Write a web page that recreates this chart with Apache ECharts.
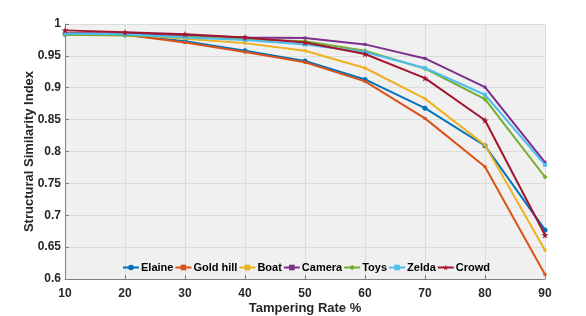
<!DOCTYPE html>
<html><head><meta charset="utf-8">
<script src="https://cdn.jsdelivr.net/npm/echarts@6/dist/echarts.min.js"></script>
<style>html,body{margin:0;padding:0;background:#fff}#c{width:586px;height:316px}</style>
</head><body><div id="c"></div>
<script>
const rates = [10, 20, 30, 40, 50, 60, 70, 80, 90];
const elaine  = [0.984, 0.983, 0.973, 0.958, 0.942, 0.913, 0.868, 0.809, 0.677];
const goldHill= [0.984, 0.983, 0.971, 0.956, 0.940, 0.910, 0.852, 0.776, 0.607];
const boat    = [0.985, 0.984, 0.977, 0.970, 0.958, 0.931, 0.883, 0.810, 0.645];
const camera  = [0.986, 0.985, 0.982, 0.979, 0.978, 0.968, 0.946, 0.901, 0.783];
const toys    = [0.983, 0.982, 0.980, 0.976, 0.973, 0.958, 0.930, 0.882, 0.760];
const zelda   = [0.985, 0.984, 0.979, 0.975, 0.968, 0.956, 0.931, 0.889, 0.779];
const crowd   = [0.990, 0.987, 0.984, 0.979, 0.971, 0.953, 0.915, 0.849, 0.669];
const yTicksMin = 0.6, yTicksMax = 1, yStep = 0.05;

const names = ['Elaine','Gold hill','Boat','Camera','Toys','Zelda','Crowd'];
const datas = [elaine, goldHill, boat, camera, toys, zelda, crowd];
const colors = ['#0072BD','#D95319','#EDB120','#7E2F8E','#77AC30','#4DBEEE','#A2142F'];
const star = 'path://M50,0 L61,35 L98,35 L68,57 L79,91 L50,70 L21,91 L32,57 L2,35 L39,35 Z';
const symbols = ['circle','rect','rect','rect','diamond','rect', star];
const sizes = [5,3,3,3,5,4,7];
const FONT = 'Liberation Sans, Arial, sans-serif';

const series = names.map((n,i)=>({
  name:n, type:'line', data: rates.map((r,j)=>[r, datas[i][j]]),
  symbol: symbols[i], symbolSize: sizes[i], showSymbol:true,
  lineStyle:{width:2, color:colors[i]}, itemStyle:{color:colors[i]},
  z: 2+i
}));

const chart = echarts.init(document.getElementById('c'), null, {renderer:'canvas'});
chart.setOption({
  animation:false,
  color: colors,
  grid:{left:65, right:41, top:24, bottom:37, show:true, backgroundColor:'#f0f0f0', borderWidth:0,
        containLabel:false, outerBoundsMode:'none'},
  legend:{
    data: names, left:122, top:262, itemGap:1, itemWidth:16, itemHeight:7,
    textStyle:{fontFamily:FONT, fontWeight:'bold', fontSize:11, color:'#000', padding:[0,0,0,-3]},
    padding:0
  },
  xAxis:{
    type:'value', min:10, max:90, interval:10,
    name:'Tampering Rate %', nameLocation:'middle', nameGap:23, nameMoveOverlap:false,
    nameTextStyle:{fontFamily:FONT, fontWeight:'bold', fontSize:13, color:'#262626'},
    axisLine:{show:true, lineStyle:{color:'#808080', width:1}},
    axisTick:{show:true, inside:true, length:4, lineStyle:{color:'#808080'}},
    axisLabel:{fontFamily:FONT, fontWeight:'bold', fontSize:12, color:'#262626', margin:9},
    splitLine:{show:true, lineStyle:{color:'#dcdcdc', width:1}}
  },
  yAxis:{
    type:'value', min:yTicksMin, max:yTicksMax, interval:yStep,
    name:'Structural Similarity Index', nameLocation:'middle', nameGap:29, nameMoveOverlap:false,
    nameTextStyle:{fontFamily:FONT, fontWeight:'bold', fontSize:13, color:'#262626'},
    axisLine:{show:true, lineStyle:{color:'#808080', width:1}},
    axisTick:{show:true, inside:true, length:4, lineStyle:{color:'#808080'}},
    axisLabel:{fontFamily:FONT, fontWeight:'bold', fontSize:12, color:'#262626', margin:4,
      formatter:v=>String(parseFloat(v.toFixed(2)))},
    splitLine:{show:true, lineStyle:{color:'#dcdcdc', width:1}}
  },
  series
});
</script></body></html>
